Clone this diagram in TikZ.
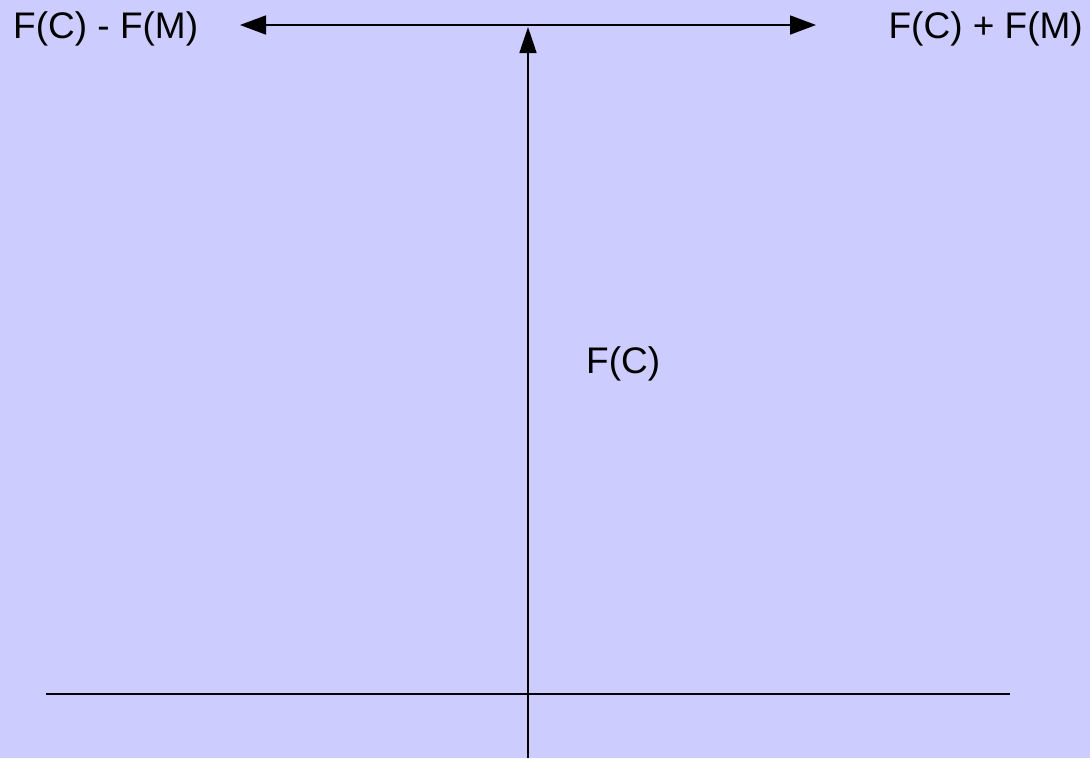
\documentclass[tikz,border=0pt]{standalone}
\usepackage{fontspec}
\setmainfont{Liberation Sans}
\usetikzlibrary{arrows.meta}
\begin{document}
\begin{tikzpicture}[x=1pt,y=-1pt,
  lbl/.style={inner sep=0pt,font=\fontsize{37}{40}\selectfont},
  axis/.style={line width=2pt,black},
  arr/.style={line width=1.6pt,black,-{Triangle[length=26pt,width=17pt]}},
  dblarr/.style={line width=1.6pt,black,{Triangle[length=26pt,width=19pt]}-{Triangle[length=26pt,width=19pt]}}]
\fill[fill={rgb,255:red,204;green,204;blue,255}] (0,0) rectangle (1090,758);
\useasboundingbox (0,0) rectangle (1090,758);
\coordinate (hl) at (46,694);
\coordinate (hr) at (1010,694);
\coordinate (vb) at (528,758);
\coordinate (vt) at (528,27);
\coordinate (tl) at (240,25);
\coordinate (tr) at (816,25);
\node[lbl,anchor=base west] (minus) at (13,38) {F(C) - F(M)};
\node[lbl,anchor=base east] (plus) at (1083,38) {F(C) + F(M)};
\node[lbl,anchor=base west] (fc) at (586,373) {F(C)};
\draw[axis] (hl) -- (hr);
\draw[dblarr] (tl) -- (tr);
\draw[arr] (vb) -- (vt);
\end{tikzpicture}
\end{document}
